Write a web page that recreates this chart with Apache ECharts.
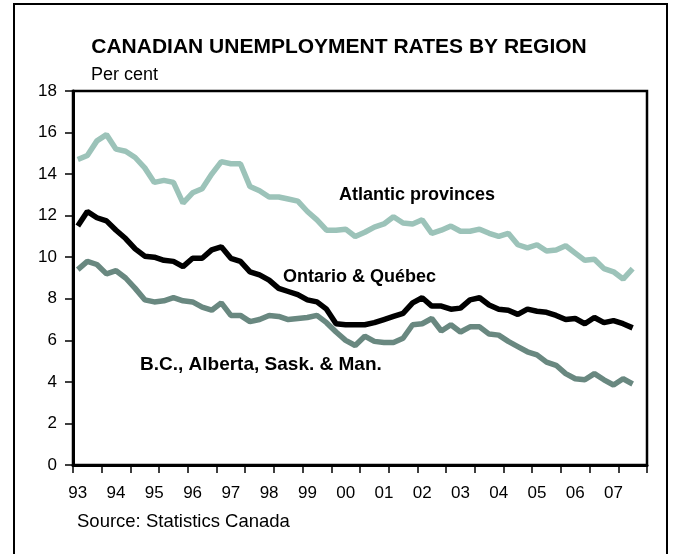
<!DOCTYPE html>
<html>
<head>
<meta charset="utf-8">
<script src="https://cdn.jsdelivr.net/npm/echarts@6/dist/echarts.min.js"></script>
<style>
  html, body { margin: 0; padding: 0; background: #fff; }
  #chart { width: 678px; height: 554px; }
</style>
</head>
<body>
<div id="chart"></div>
<script>
// Years shown on the horizontal axis; each year has four quarters.
const years = ['93', '94', '95', '96', '97', '98', '99', '00', '01', '02', '03', '04', '05', '06', '07'];
const quarters = ['Q1', 'Q2', 'Q3', 'Q4'];

// Quarterly unemployment rates, per cent (1993 Q1 to 2007 Q3).
const atlantic = [14.7, 14.9, 15.6, 15.9, 15.2, 15.1, 14.8, 14.3, 13.6, 13.7,
  13.6, 12.6, 13.1, 13.3, 14.0, 14.6, 14.5, 14.5, 13.4, 13.2,
  12.9, 12.9, 12.8, 12.7, 12.2, 11.8, 11.3, 11.3, 11.35, 11.0,
  11.2, 11.45, 11.6, 11.95, 11.65, 11.6, 11.8, 11.15, 11.3, 11.5,
  11.25, 11.25, 11.35, 11.15, 11.0, 11.15, 10.6, 10.45, 10.6, 10.3,
  10.35, 10.55, 10.2, 9.85, 9.9, 9.45, 9.3, 8.95, 9.45];

const ontarioQuebec = [11.5, 12.2, 11.9, 11.75, 11.3, 10.9, 10.4, 10.05, 10.0, 9.85,
  9.8, 9.55, 9.95, 9.95, 10.35, 10.5, 9.95, 9.8, 9.3, 9.15,
  8.9, 8.5, 8.35, 8.2, 7.95, 7.85, 7.5, 6.8, 6.75, 6.75,
  6.75, 6.85, 7.0, 7.15, 7.3, 7.8, 8.05, 7.65, 7.65, 7.5,
  7.55, 7.95, 8.05, 7.7, 7.5, 7.45, 7.25, 7.5, 7.4, 7.35,
  7.2, 7.0, 7.05, 6.8, 7.1, 6.85, 6.95, 6.8, 6.6];

const west = [9.4, 9.8, 9.65, 9.2, 9.35, 9.0, 8.5, 7.95, 7.85, 7.9,
  8.05, 7.9, 7.85, 7.6, 7.45, 7.8, 7.2, 7.2, 6.9, 7.0,
  7.2, 7.15, 7.0, 7.05, 7.1, 7.2, 6.85, 6.4, 6.0, 5.75,
  6.2, 5.95, 5.9, 5.9, 6.1, 6.75, 6.8, 7.05, 6.45, 6.75,
  6.4, 6.65, 6.65, 6.3, 6.25, 5.95, 5.7, 5.45, 5.3, 4.95,
  4.8, 4.4, 4.15, 4.1, 4.4, 4.1, 3.85, 4.15, 3.9];

const categories = [];
years.forEach(function (y) {
  quarters.forEach(function (q) { categories.push(y + ' ' + q); });
});

const FONT = '"Liberation Sans", Arial, sans-serif';

const chart = echarts.init(document.getElementById('chart'), null, { renderer: 'canvas' });

chart.setOption({
  animation: false,
  backgroundColor: '#ffffff',
  title: {
    text: 'CANADIAN UNEMPLOYMENT RATES BY REGION',
    left: 'center',
    top: 32,
    textStyle: { fontFamily: FONT, fontSize: 21, fontWeight: 'bold', color: '#000' }
  },
  grid: {
    left: 73, right: 31, top: 91, bottom: 89,
    show: true,
    borderColor: '#000',
    borderWidth: 2.5,
    backgroundColor: 'transparent'
  },
  xAxis: {
    type: 'category',
    data: categories,
    boundaryGap: true,
    axisLine: { show: true, lineStyle: { color: '#000', width: 3 } },
    axisTick: { show: true, interval: 2, length: 8, lineStyle: { color: '#000', width: 1.5 } },
    axisLabel: {
      interval: 3,
      margin: 20,
      fontFamily: FONT,
      fontSize: 17,
      color: '#000',
      formatter: function (v) { return v.split(' ')[0]; }
    },
    splitLine: { show: false }
  },
  yAxis: {
    type: 'value',
    min: 0, max: 18, interval: 2,
    axisLine: { show: true, lineStyle: { color: '#000', width: 3 } },
    axisTick: { show: true, length: 8, lineStyle: { color: '#000', width: 1.5 } },
    axisLabel: { margin: 16, fontFamily: FONT, fontSize: 17, color: '#000' },
    splitLine: { show: false }
  },
  series: [
    {
      name: 'Atlantic provinces', type: 'line', data: atlantic, symbol: 'none',
      lineStyle: { color: '#9cc3b9', width: 5.5 }, z: 2
    },
    {
      name: 'B.C., Alberta, Sask. & Man.', type: 'line', data: west, symbol: 'none',
      lineStyle: { color: '#698880', width: 5.5 }, z: 3
    },
    {
      name: 'Ontario & Québec', type: 'line', data: ontarioQuebec, symbol: 'none',
      lineStyle: { color: '#000000', width: 5.5 }, z: 4
    }
  ],
  graphic: [
    {
      type: 'rect', silent: true, z: 100,
      shape: { x: 14, y: 4, width: 653, height: 570 },
      style: { fill: 'none', stroke: '#000', lineWidth: 2 }
    },
    {
      type: 'text', left: 91, top: 66,
      style: { text: 'Per cent', font: '18px ' + FONT, fill: '#000' }
    },
    {
      type: 'text', left: 77, top: 512,
      style: { text: 'Source: Statistics Canada', font: '18.5px ' + FONT, fill: '#000' }
    },
    {
      type: 'text', left: 339, top: 186,
      style: { text: 'Atlantic provinces', font: 'bold 18px ' + FONT, fill: '#000' }
    },
    {
      type: 'text', left: 283, top: 268,
      style: { text: 'Ontario & Québec', font: 'bold 18px ' + FONT, fill: '#000' }
    },
    {
      type: 'text', left: 140, top: 355,
      style: { text: 'B.C., Alberta, Sask. & Man.', font: 'bold 19px ' + FONT, fill: '#000' }
    }
  ]
});
</script>
</body>
</html>
